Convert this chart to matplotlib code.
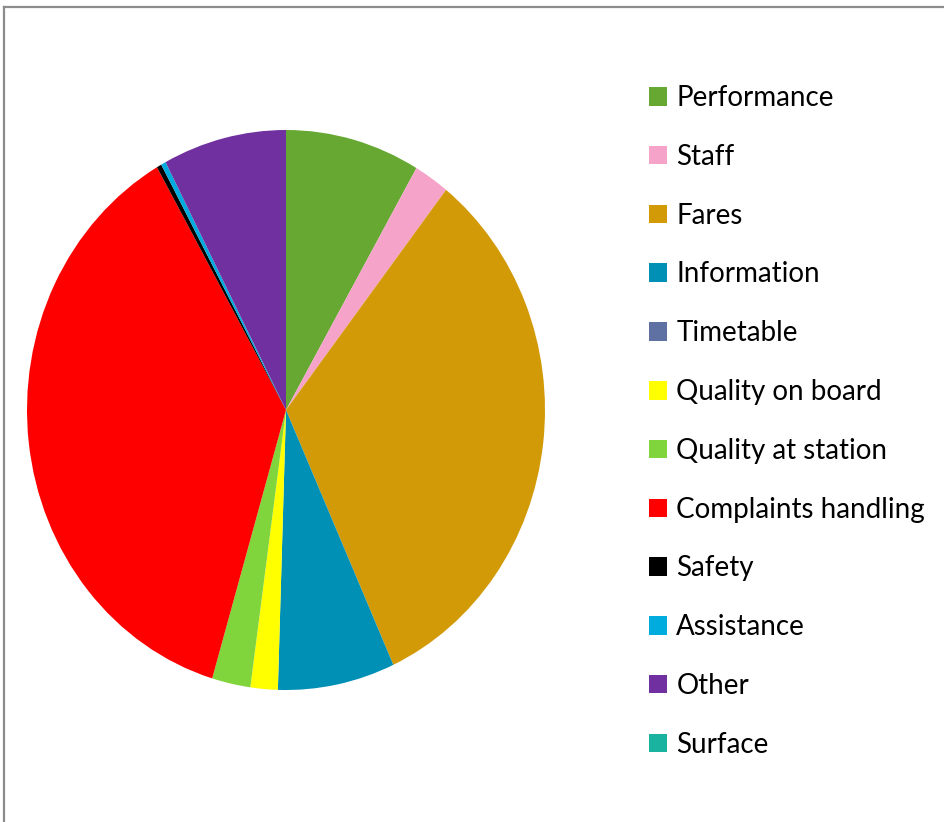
import matplotlib.pyplot as plt
from matplotlib.lines import Line2D

categories = ["Performance", "Staff", "Fares", "Information", "Timetable",
              "Quality on board", "Quality at station", "Complaints handling",
              "Safety", "Assistance", "Other", "Surface"]
shares = [8.4, 2.2, 32.6, 7.3, 0.0, 1.7, 2.4, 37.1, 0.3, 0.3, 7.7, 0.0]
colors = ["#66a832", "#f5a3c8", "#d39a08", "#008fb5", "#5f70a3", "#ffff00",
          "#80d43c", "#ff0000", "#000000", "#00acde", "#7030a0", "#1ab39f"]

plt.rcParams['font.family'] = ['Lato', 'DejaVu Sans']

fig = plt.figure(figsize=(9.44, 8.22), dpi=100)
ax = fig.add_axes([27 / 944, 132 / 822, 518 / 944, 560 / 822])

wedges, _ = ax.pie(shares, colors=colors, startangle=90, counterclock=False,
                   wedgeprops=dict(linewidth=0))
ax.set_aspect('auto')
ax.set_xlim(-1, 1)
ax.set_ylim(-1, 1)
ax.axis('off')

fig.legend(wedges, categories, loc='upper left',
           bbox_to_anchor=(638 / 944, 1 - 74 / 822),
           frameon=False, fontsize=20, handlelength=0.65, handleheight=0.65,
           handletextpad=0.33, labelspacing=1.18, borderaxespad=0)

# grey chart-area border (top and left visible)
fig.add_artist(Line2D([4 / 944, 4 / 944], [0, 1 - 7 / 822], color="#8c8c8c",
                      lw=1.6, transform=fig.transFigure))
fig.add_artist(Line2D([4 / 944, 1], [1 - 7 / 822, 1 - 7 / 822], color="#8c8c8c",
                      lw=1.6, transform=fig.transFigure))

fig.savefig("out.png", dpi=100)
